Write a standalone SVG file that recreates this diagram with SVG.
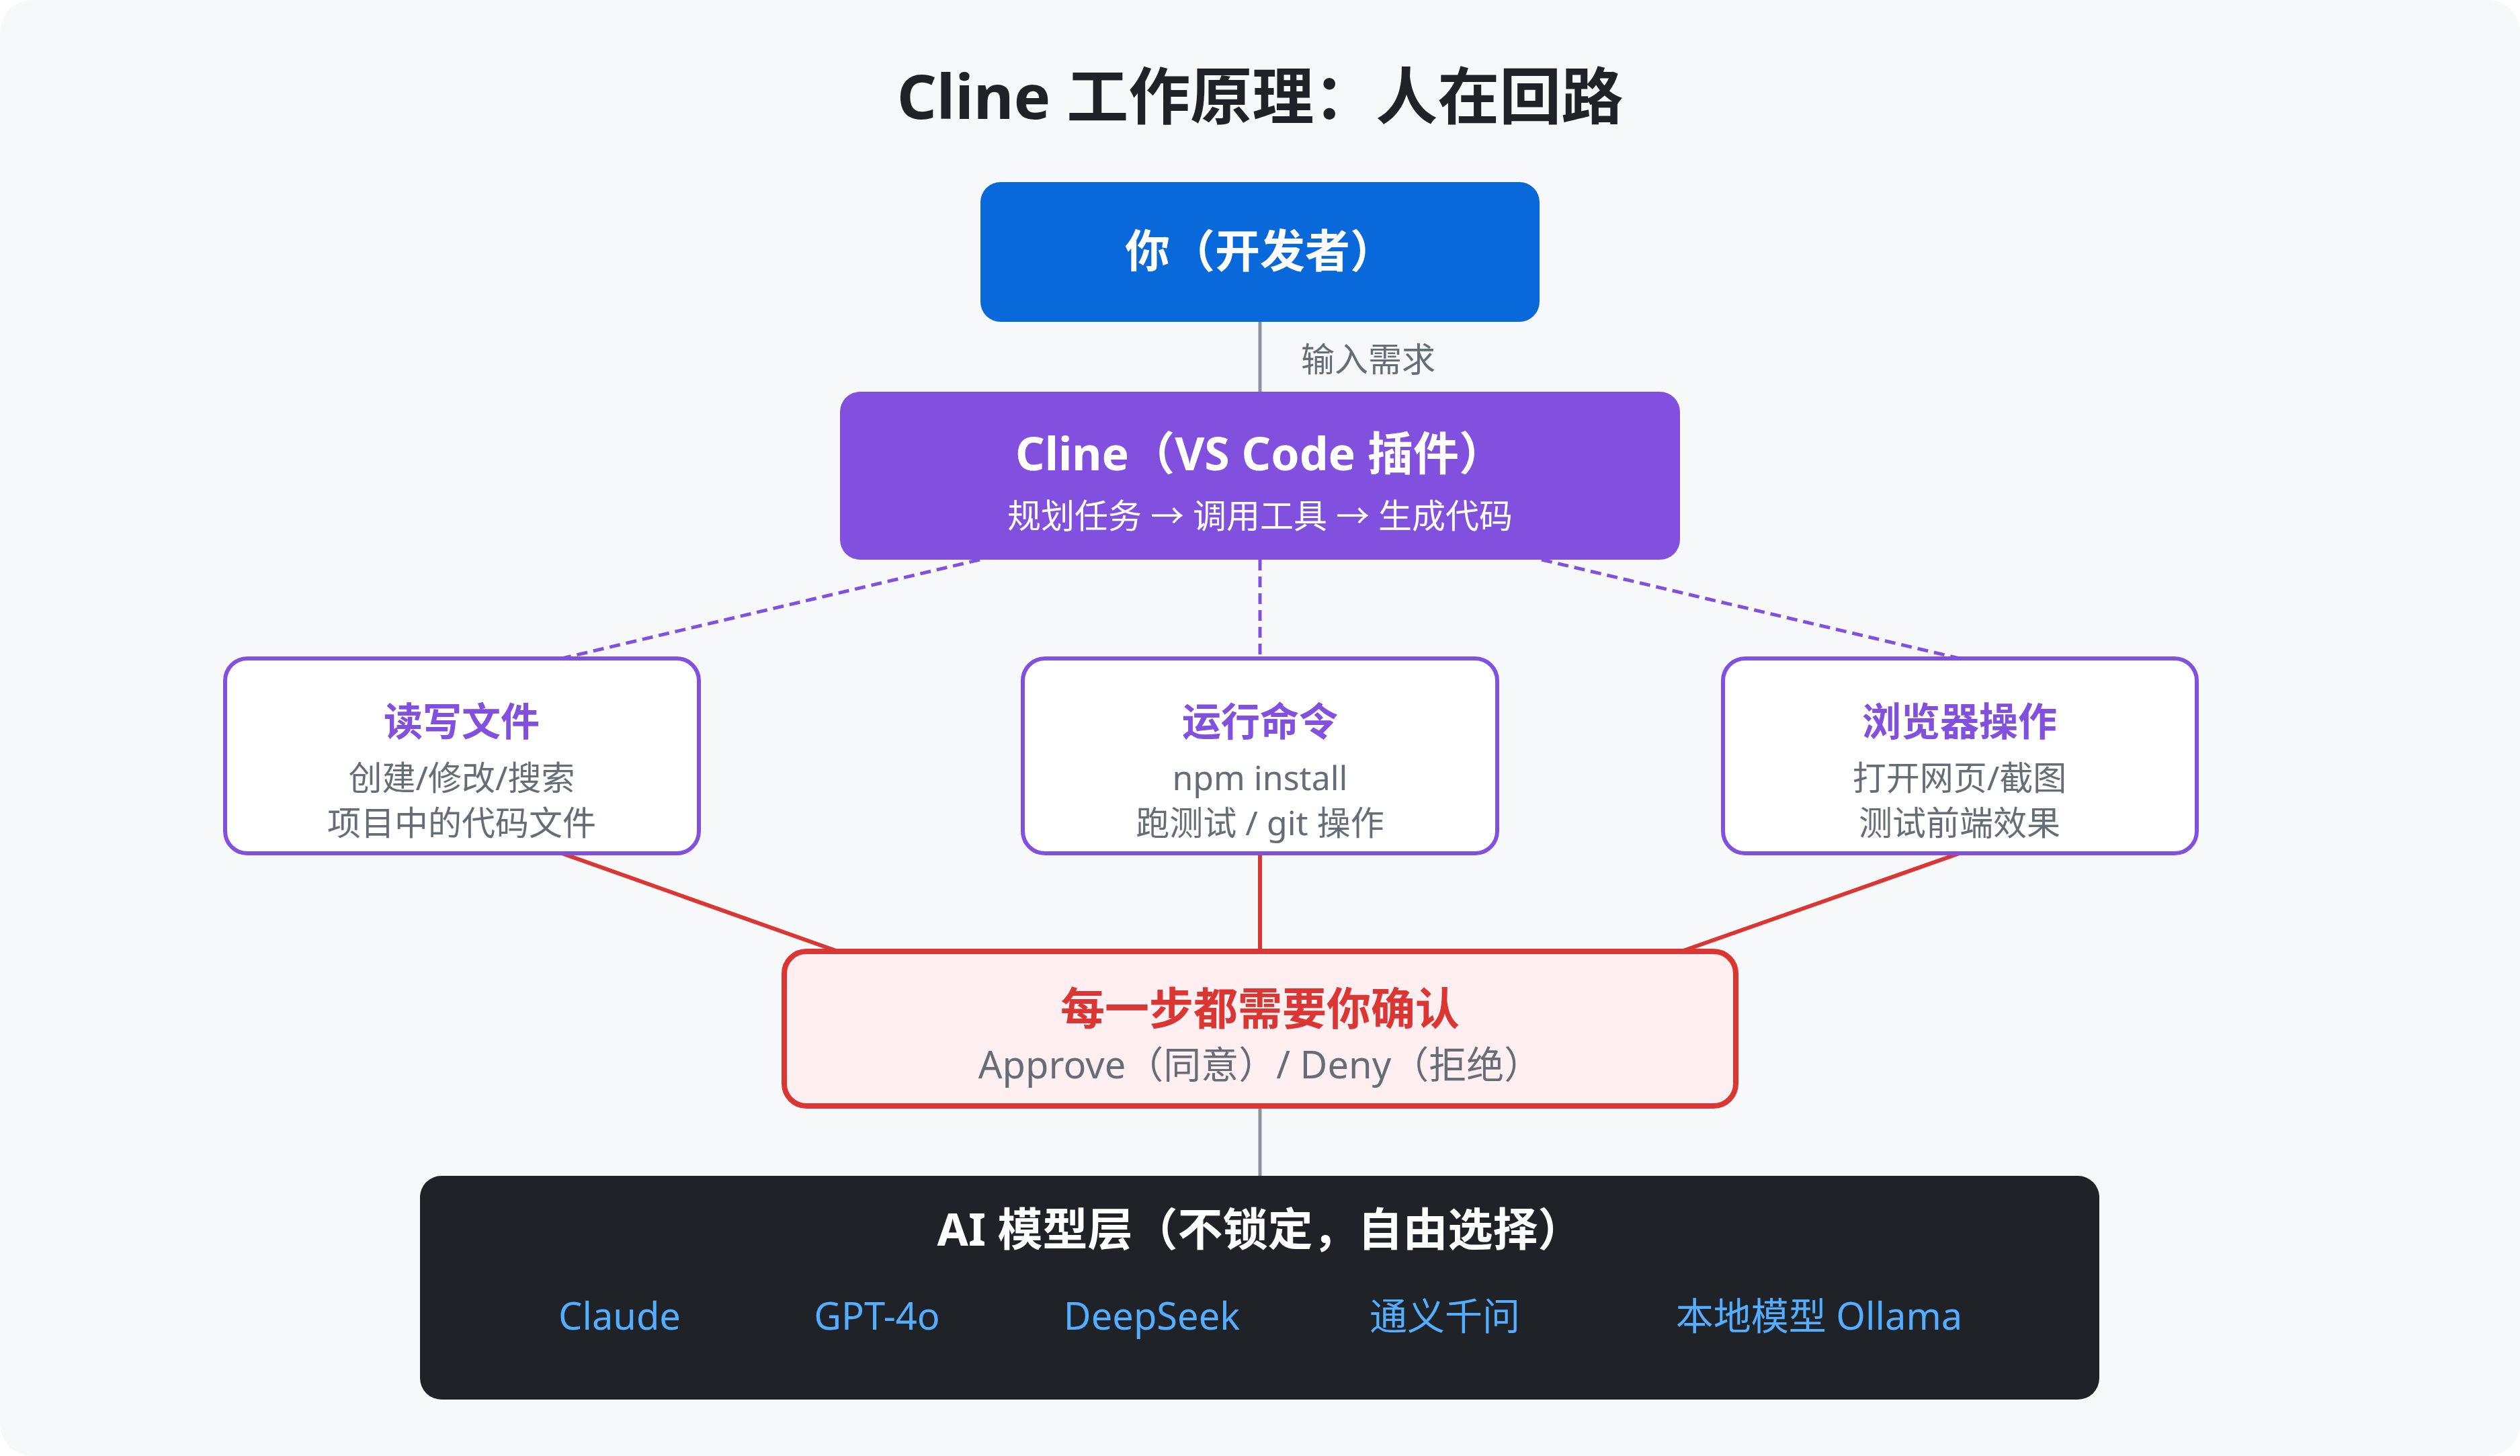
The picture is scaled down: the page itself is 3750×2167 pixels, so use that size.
<svg xmlns="http://www.w3.org/2000/svg" width="3750" height="2167" viewBox="0 0 3750 2167">
<style>
text{font-family:"Noto Sans","Noto Sans CJK SC",sans-serif;text-anchor:middle}
.b{font-weight:700}
.tool{fill:#ffffff;stroke:#8250df;stroke-width:6}
.tt{fill:#8250df;font-size:58px;font-weight:700}
.td{fill:#656d76;font-size:50px}
.dash{stroke:#8250df;stroke-width:5;stroke-dasharray:16 9;fill:none}
.red{stroke:#da3633;stroke-width:6;fill:none}
.gray{stroke:#8c959f;stroke-width:5;fill:none}
.m{fill:#54aeff;font-size:56px}
</style>
<rect x="0" y="0" width="3750" height="2167" fill="#ffffff"/>
<rect x="0" y="0" width="3750" height="2167" rx="48" fill="#f6f8fa"/>
<text x="1875" y="177" class="b" font-size="92" fill="#1f2328">Cline 工作原理：人在回路</text>
<g id="connectors">
<line class="gray" x1="1875" y1="479" x2="1875" y2="583"/>
<text x="1936" y="553" style="text-anchor:start" font-size="50" fill="#656d76">输入需求</text>
<line class="dash" x1="1458" y1="833" x2="836" y2="980"/>
<line class="dash" x1="1875" y1="833" x2="1875" y2="980"/>
<line class="dash" x1="2294" y1="833" x2="2916" y2="980"/>
<line class="red" x1="836" y1="1270" x2="1247" y2="1416"/>
<line class="red" x1="1875" y1="1270" x2="1875" y2="1416"/>
<line class="red" x1="2916" y1="1270" x2="2502" y2="1416"/>
<line class="gray" x1="1875" y1="1650" x2="1875" y2="1750"/>
</g>
<g id="developer">
<rect x="1459" y="271" width="832" height="208" rx="30" fill="#0969da"/>
<text x="1875" y="398" class="b" font-size="67" fill="#ffffff">你（开发者）</text>
</g>
<g id="cline">
<rect x="1250" y="583" width="1250" height="250" rx="30" fill="#8250df"/>
<text x="1875" y="700" class="b" font-size="68" fill="#ffffff">Cline（VS Code 插件）</text>
<text x="1875" y="786" font-size="50" fill="#ffffff">规划任务 → 调用工具 → 生成代码</text>
</g>
<g id="files">
<rect class="tool" x="335" y="980" width="705" height="290" rx="33"/>
<text x="687" y="1095" class="tt">读写文件</text>
<text x="687" y="1176" class="td">创建/修改/搜索</text>
<text x="687" y="1243" class="td">项目中的代码文件</text>
</g>
<g id="commands">
<rect class="tool" x="1522" y="980" width="706" height="290" rx="33"/>
<text x="1875" y="1095" class="tt">运行命令</text>
<text x="1875" y="1176" class="td">npm install</text>
<text x="1875" y="1243" class="td">跑测试 / git 操作</text>
</g>
<g id="browser">
<rect class="tool" x="2564" y="980" width="705" height="290" rx="33"/>
<text x="2916" y="1095" class="tt">浏览器操作</text>
<text x="2916" y="1176" class="td">打开网页/截图</text>
<text x="2916" y="1243" class="td">测试前端效果</text>
</g>
<g id="confirm">
<rect x="1167" y="1416" width="1416" height="230" rx="33" fill="#ffeff0" stroke="#da3633" stroke-width="8"/>
<text x="1875" y="1525" class="b" font-size="66" fill="#da3633">每一步都需要你确认</text>
<text x="1875" y="1605" font-size="56" fill="#656d76">Approve（同意）/ Deny（拒绝）</text>
</g>
<g id="models">
<rect x="625" y="1750" width="2499" height="333" rx="32" fill="#1f2328"/>
<text x="1875" y="1854" class="b" font-size="67" fill="#ffffff">AI 模型层（不锁定，自由选择）</text>
<text x="922" y="1979" class="m">Claude</text>
<text x="1305" y="1979" class="m">GPT-4o</text>
<text x="1714" y="1979" class="m">DeepSeek</text>
<text x="2150" y="1979" class="m">通义千问</text>
<text x="2707" y="1979" class="m">本地模型 Ollama</text>
</g>
</svg>
